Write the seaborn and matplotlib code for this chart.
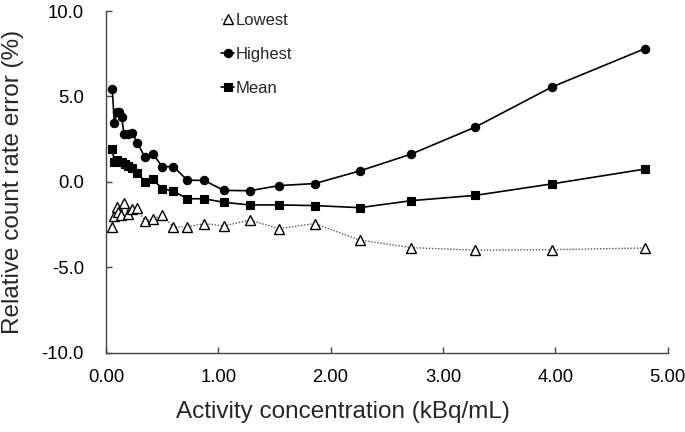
import matplotlib
matplotlib.use("Agg")
import matplotlib.pyplot as plt
import matplotlib.transforms as mtransforms
import seaborn as sns
import pandas as pd

# ---- data ----
x_high = [0.056, 0.074, 0.10, 0.118, 0.14, 0.16, 0.20, 0.234, 0.28, 0.347, 0.416, 0.50,
          0.60, 0.724, 0.875, 1.05, 1.28, 1.54, 1.86, 2.26, 2.72, 3.29, 3.97, 4.80]
y_high = [5.45, 3.47, 4.10, 4.10, 3.77, 2.80, 2.80, 2.85, 2.28, 1.43, 1.65, 0.89,
          0.89, 0.10, 0.08, -0.50, -0.52, -0.22, -0.10, 0.64, 1.63, 3.21, 5.55, 7.80]

x_mean = [0.056, 0.074, 0.10, 0.14, 0.165, 0.20, 0.234, 0.28, 0.347, 0.416, 0.50, 0.60,
          0.724, 0.875, 1.05, 1.28, 1.54, 1.86, 2.26, 2.72, 3.29, 3.97, 4.80]
y_mean = [1.95, 1.15, 1.29, 1.19, 1.03, 0.93, 0.79, 0.54, 0.00, 0.16, -0.40, -0.54,
          -0.99, -0.99, -1.20, -1.35, -1.35, -1.39, -1.51, -1.10, -0.79, -0.12, 0.75]

x_low = [0.056, 0.074, 0.095, 0.11, 0.134, 0.163, 0.20, 0.23, 0.28, 0.347, 0.416, 0.50,
         0.60, 0.724, 0.875, 1.05, 1.28, 1.54, 1.86, 2.26, 2.72, 3.29, 3.97, 4.80]
y_low = [-2.64, -2.02, -1.49, -1.75, -1.95, -1.25, -1.89, -1.59, -1.55, -2.28, -2.18, -1.95,
         -2.64, -2.64, -2.44, -2.58, -2.24, -2.74, -2.44, -3.41, -3.85, -4.00, -3.97, -3.87]

x_ticks = [0, 1, 2, 3, 4, 5]
x_tick_labels = ["0.00", "1.00", "2.00", "3.00", "4.00", "5.00"]
y_ticks = [-10, -5, 0, 5, 10]
y_tick_labels = ["-10.0", "-5.0", "0.0", "5.0", "10.0"]

# ---- style ----
sns.set_style("ticks")
plt.rcParams["font.family"] = ["Liberation Sans", "DejaVu Sans"]

W, H = 685, 432
fig = plt.figure(figsize=(W / 100, H / 100), dpi=100)
ax = fig.add_axes([106 / W, (H - 352.7) / H, 561.5 / W, (352.7 - 11) / H])

df_low = pd.DataFrame({"x": x_low, "y": y_low})
df_high = pd.DataFrame({"x": x_high, "y": y_high})
df_mean = pd.DataFrame({"x": x_mean, "y": y_mean})

sns.lineplot(data=df_low, x="x", y="y", ax=ax, label="Lowest", color="#555555",
             linestyle=(0, (1, 1.2)), linewidth=1.0, marker="^", markersize=7.5,
             markerfacecolor="white", markeredgecolor="black", markeredgewidth=1.0)
sns.lineplot(data=df_high, x="x", y="y", ax=ax, label="Highest", color="black",
             linewidth=1.2, marker="o", markersize=6.0,
             markerfacecolor="black", markeredgecolor="black", markeredgewidth=0.8)
sns.lineplot(data=df_mean, x="x", y="y", ax=ax, label="Mean", color="black",
             linewidth=1.2, marker="s", markersize=5.6,
             markerfacecolor="black", markeredgecolor="black", markeredgewidth=0.8)

ax.set_xlim(0, 5)
ax.set_ylim(-10, 10)
ax.set_xticks(x_ticks)
ax.set_xticklabels(x_tick_labels)
ax.set_yticks(y_ticks)
ax.set_yticklabels(y_tick_labels)

for s in ["top", "right"]:
    ax.spines[s].set_visible(False)
for s in ["left", "bottom"]:
    ax.spines[s].set_color("#444444")
    ax.spines[s].set_linewidth(1.0)

ax.tick_params(direction="in", length=4, width=1, labelsize=13.3, colors="#444444",
               labelcolor="black")
ax.tick_params(axis="y", pad=16)
ax.tick_params(axis="x", pad=12)

ax.set_xlabel("Activity concentration (kBq/mL)", fontsize=17.5)
ax.set_ylabel("Relative count rate error (%)", fontsize=17.5)
ax.xaxis.set_label_coords(0.5, (H - 401) / H, transform=fig.transFigure)
ax.yaxis.set_label_coords(
    24 / W, 0.5,
    transform=mtransforms.blended_transform_factory(fig.transFigure, ax.transAxes))

ax.legend(loc="upper left", bbox_to_anchor=(221 / W, 1 - 13 / H),
          bbox_transform=fig.transFigure, frameon=False, fontsize=12,
          handlelength=0.8, handletextpad=0.1, labelspacing=1.15,
          borderpad=0, borderaxespad=0)

fig.savefig("out.png", dpi=100)
